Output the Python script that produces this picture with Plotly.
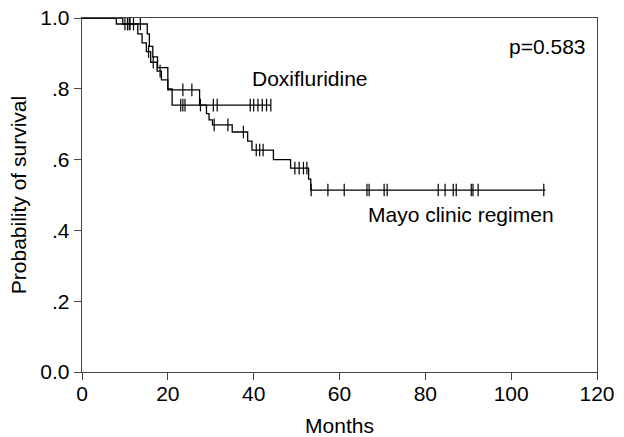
import plotly.graph_objects as go

# Doxifluridine Kaplan-Meier steps (time in months, survival after step)
doxi_times = [0, 8.0, 13.0, 14.0, 15.0, 16.0, 17.5, 18.5, 20.0, 21.0]
doxi_surv = [1.0, 0.983, 0.955, 0.93, 0.905, 0.875, 0.85, 0.825, 0.80, 0.754]
doxi_end = 44.0
doxi_censor = [10, 10.6, 11.2, 15.5, 16.6, 18.2, 23.0, 23.5, 24.0, 27.6, 30.6, 31.5,
               39.2, 40.0, 41.0, 42.0, 43.0, 44.0]

# Mayo clinic regimen Kaplan-Meier steps
mayo_times = [0, 9.5, 15.2, 15.7, 16.5, 17.6, 20.0, 27.4, 29.0, 29.6, 30.4, 35.0,
              38.6, 39.6, 44.6, 48.6, 52.8, 53.3]
mayo_surv = [1.0, 0.983, 0.955, 0.92, 0.89, 0.86, 0.797, 0.754, 0.73, 0.712, 0.698,
             0.678, 0.652, 0.627, 0.60, 0.576, 0.545, 0.514]
mayo_end = 108.0
mayo_censor = [11.0, 12.0, 13.6, 23.5, 25.6, 30.8, 34.0, 37.6, 40.6, 41.4, 42.2,
               49.6, 50.6, 51.6, 52.4, 53.4, 57.3, 61.1, 66.4, 66.9, 70.4, 71.1,
               83.0, 84.6, 86.5, 87.2, 90.7, 91.1, 92.3, 107.6]

p_text = "p=0.583"


def surv_at(times, surv, t):
    s = surv[0]
    for ti, si in zip(times, surv):
        if ti <= t:
            s = si
    return s


fig = go.Figure()
for times, surv, end, cens in [(doxi_times, doxi_surv, doxi_end, doxi_censor),
                               (mayo_times, mayo_surv, mayo_end, mayo_censor)]:
    fig.add_trace(go.Scatter(
        x=times + [end], y=surv + [surv[-1]], mode="lines",
        line=dict(color="black", width=1.3, shape="hv"),
        showlegend=False, hoverinfo="skip"))
    fig.add_trace(go.Scatter(
        x=cens, y=[surv_at(times, surv, c) for c in cens], mode="markers",
        marker=dict(symbol="line-ns-open", size=9, color="black",
                    line=dict(color="black", width=1.2)),
        showlegend=False, hoverinfo="skip"))

font = dict(family="Liberation Sans, Arial, sans-serif", size=21, color="black")
tfont = dict(family="Liberation Sans, Arial, sans-serif", size=21, color="black")

fig.add_annotation(x=39.2, y=0.83, text="Doxifluridine", showarrow=False,
                   xanchor="left", yanchor="middle", font=font)
fig.add_annotation(x=66.2, y=0.446, text="Mayo clinic regimen", showarrow=False,
                   xanchor="left", yanchor="middle", font=font)
fig.add_annotation(x=118, y=0.92, text=p_text, showarrow=False,
                   xanchor="right", yanchor="middle", font=font)

fig.update_layout(
    width=624, height=437,
    margin=dict(l=82, r=27, t=18, b=65),
    paper_bgcolor="white", plot_bgcolor="white",
    font=font,
)
fig.update_xaxes(
    range=[0, 120], tickvals=[0, 20, 40, 60, 80, 100, 120],
    ticks="outside", ticklen=7, tickcolor="#444", showgrid=False, zeroline=False,
    showline=True, linecolor="#444", linewidth=1.3, mirror=True, automargin=False,
    ticklabelstandoff=-5, ticklabeloverflow="allow",
    title=dict(text="Months", font=font, standoff=16), tickfont=tfont,
)
fig.update_yaxes(
    range=[0, 1.0], tickvals=[0, 0.2, 0.4, 0.6, 0.8, 1.0],
    ticktext=["0.0", ".2", ".4", ".6", ".8", "1.0"],
    ticks="outside", ticklen=7, tickcolor="#444", showgrid=False, zeroline=False,
    showline=True, linecolor="#444", linewidth=1.3, mirror=True, automargin=False,
    ticklabeloverflow="allow",
    title=dict(text="Probability of survival", font=font, standoff=8), tickfont=tfont,
)

# remove the browser's default 8px body margin so the figure fills the window
fig.write_html("out.html",
               config={"displayModeBar": False, "staticPlot": True},
               post_script="document.body.style.margin='0';document.body.style.overflow='hidden';")
